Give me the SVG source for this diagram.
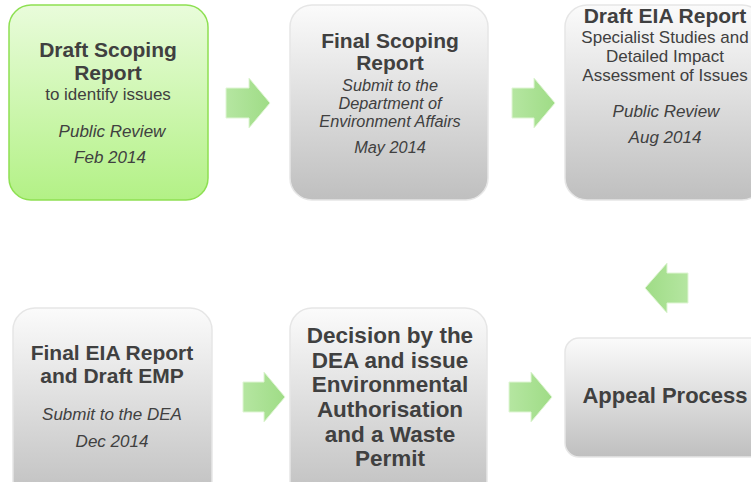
<svg xmlns="http://www.w3.org/2000/svg" width="751" height="482" viewBox="0 0 751 482">
<defs>
<linearGradient id="gGreen" x1="0" y1="0" x2="0" y2="1">
<stop offset="0" stop-color="#e9fcdb"/>
<stop offset="1" stop-color="#b3f186"/>
</linearGradient>
<linearGradient id="gGray" x1="0" y1="0" x2="0" y2="1">
<stop offset="0" stop-color="#fbfbfb"/>
<stop offset="1" stop-color="#bfbfbf"/>
</linearGradient>
<linearGradient id="gArrow" x1="0" y1="0" x2="1" y2="0">
<stop offset="0" stop-color="#b5e6a1"/>
<stop offset="1" stop-color="#9fdc86"/>
</linearGradient>
<linearGradient id="gArrowL" x1="1" y1="0" x2="0" y2="0">
<stop offset="0" stop-color="#b5e6a1"/>
<stop offset="1" stop-color="#9fdc86"/>
</linearGradient>
</defs>
<style>
.gray{fill:url(#gGray);stroke:#e6e6e6;stroke-width:1.5}
.green{fill:url(#gGreen);stroke:#8ee052;stroke-width:1.5}
.t{font-family:"Liberation Sans",Arial,Helvetica,sans-serif;fill:#404040;text-anchor:middle}
.b{font-weight:bold;font-size:21px}
.bb{font-weight:bold;font-size:22.5px}
.n{font-size:17px}
.i{font-style:italic;font-size:17px}
.s{font-style:italic;font-size:16.3px}
.arr{fill:url(#gArrow);stroke:#dff5d4;stroke-width:1}
.arrL{fill:url(#gArrowL);stroke:#dff5d4;stroke-width:1}
</style>
<g id="n1">
<rect class="green" x="9" y="5" width="199" height="195" rx="22"/>
<text class="t b" x="108" y="57">Draft Scoping</text>
<text class="t b" x="108" y="80">Report</text>
<text class="t n" x="108" y="100">to identify issues</text>
<text class="t i" x="112" y="137">Public Review</text>
<text class="t i" x="110" y="163">Feb 2014</text>
</g>
<g id="n2">
<rect class="gray" x="290" y="5" width="198" height="195" rx="22"/>
<text class="t b" x="390" y="48">Final Scoping</text>
<text class="t b" x="390" y="70">Report</text>
<text class="t s" x="390" y="91">Submit to the</text>
<text class="t s" x="390" y="109">Department of</text>
<text class="t s" x="390" y="127">Environment Affairs</text>
<text class="t s" x="390" y="153">May 2014</text>
</g>
<g id="n3">
<rect class="gray" x="565" y="5" width="199" height="195" rx="22"/>
<text class="t b" x="665" y="23">Draft EIA Report</text>
<text class="t n" x="665" y="43">Specialist Studies and</text>
<text class="t n" x="665" y="62">Detailed Impact</text>
<text class="t n" x="665" y="81">Assessment of Issues</text>
<text class="t i" x="666" y="117">Public Review</text>
<text class="t i" x="665" y="143">Aug 2014</text>
</g>
<g id="n4">
<rect class="gray" x="13" y="308" width="199" height="195" rx="22"/>
<text class="t b" x="112" y="360">Final EIA Report</text>
<text class="t b" x="112" y="383">and Draft EMP</text>
<text class="t i" x="112" y="420">Submit to the DEA</text>
<text class="t i" x="112" y="447">Dec 2014</text>
</g>
<g id="n5">
<rect class="gray" x="290" y="308" width="197" height="195" rx="22"/>
<text class="t bb" x="390" y="343">Decision by the</text>
<text class="t bb" x="390" y="368">DEA and issue</text>
<text class="t bb" x="390" y="392">Environmental</text>
<text class="t bb" x="390" y="417">Authorisation</text>
<text class="t bb" x="390" y="442">and a Waste</text>
<text class="t bb" x="390" y="466">Permit</text>
</g>
<g id="n6">
<rect class="gray" x="565" y="338" width="199" height="119" rx="14"/>
<text class="t" x="665" y="403" style="font-weight:bold;font-size:22px">Appeal Process</text>
</g>
<g id="connectors">
<path class="arr" d="M226,88 H249 V78 L270,103 L249,128 V118 H226 Z"/>
<path class="arr" d="M512,88 H534 V78 L555,103 L534,128 V118 H512 Z"/>
<path class="arrL" d="M688,273 H667 V263 L645,288 L667,313 V303 H688 Z"/>
<path class="arr" d="M243,382 H264 V372 L285,397 L264,422 V412 H243 Z"/>
<path class="arr" d="M509,382 H531 V372 L552,397 L531,422 V412 H509 Z"/>
</g>
</svg>
